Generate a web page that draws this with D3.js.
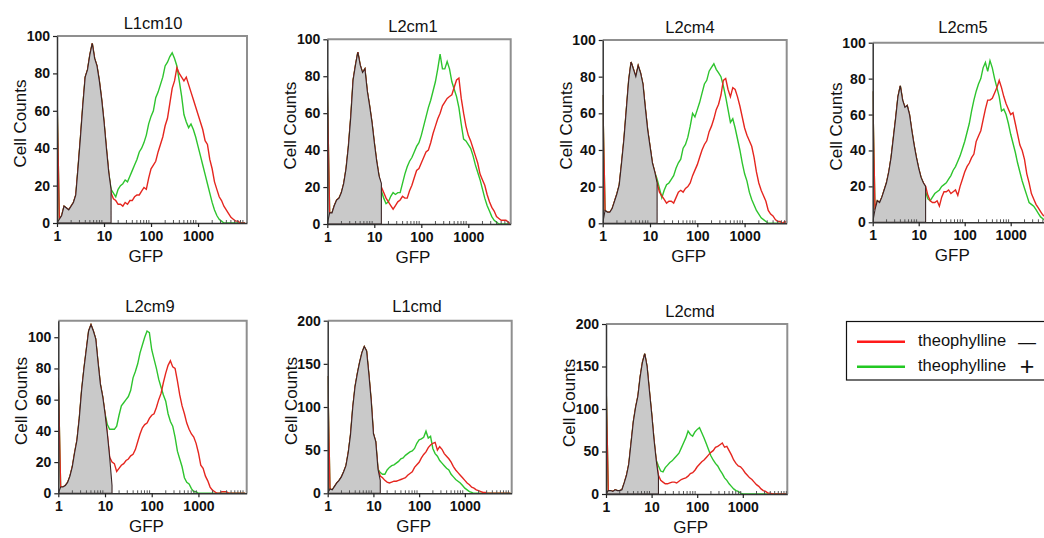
<!DOCTYPE html>
<html>
<head>
<meta charset="utf-8">
<script src="https://cdn.jsdelivr.net/npm/d3@7"></script>
<style>
body { margin: 0; background: #fff; }
text { font-family: "Liberation Sans", Arial, sans-serif; fill: #111; }
</style>
</head>
<body>
<script>
// instrument channel centres (GFP fluorescence)
var channels = [1, 1.122, 1.259, 1.413, 1.585, 1.778, 1.995, 2.239, 2.512, 2.818,
  3.162, 3.548, 3.981, 4.467, 5.012, 5.623, 6.310, 7.079, 7.943, 8.913,
  10, 11.22, 12.59, 14.13, 15.85, 17.78, 19.95, 22.39, 25.12, 28.18,
  31.62, 35.48, 39.81, 44.67, 50.12, 56.23, 63.10, 70.79, 79.43, 89.13,
  100, 112.2, 125.9, 141.3, 158.5, 177.8, 199.5, 223.9, 251.2, 281.8,
  316.2, 354.8, 398.1, 446.7, 501.2, 562.3, 631.0, 707.9, 794.3, 891.3,
  1000, 1122, 1259, 1413, 1585, 1778, 1995, 2239, 2512, 2818,
  3162, 3548, 3981, 4467, 5012, 5623, 6310, 7079, 7943, 8913, 10000];

var panelNames = ["L1cm10", "L2cm1", "L2cm4", "L2cm5", "L2cm9", "L1cmd", "L2cmd"];
var xTickValues = [1, 10, 100, 1000];
var xTickLabels = ["1", "10", "100", "1000"];
var yTickSets = [[0, 20, 40, 60, 80, 100], [0, 20, 40, 60, 80, 100], [0, 20, 40, 60, 80, 100],
  [0, 20, 40, 60, 80, 100], [0, 20, 40, 60, 80, 100], [0, 50, 100, 150, 200], [0, 50, 100, 150, 200]];
var yMaxes = [100, 100, 100, 100, 110.6, 200, 200];

// pile-up in the first channel (both theophylline curves)
var firstChannel = [68, 73, 70, 73, 74, 136, 134];

// unstained control, channels 0..23 (grey histogram)
var negative = [
  [0, 2, 4, 9, 8, 7, 9, 11, 15, 30, 46, 63, 78, 82, 90, 96, 88, 84, 76, 66, 54, 40, 27, 18],
  [0, 6, 6, 10, 13, 14, 17, 22, 30, 42, 58, 78, 86, 93, 86, 82, 84, 72, 64, 55, 44, 34, 26, 22],
  [0, 7, 6, 6, 8, 12, 16, 21, 33, 46, 62, 78, 88, 84, 80, 86, 82, 76, 63, 51, 42, 33, 28, 22],
  [0, 7, 12, 11, 14, 18, 22, 28, 36, 47, 58, 70, 76, 68, 64, 65, 60, 51, 43, 36, 30, 25, 22, 20],
  [0, 4, 4, 5, 7, 11, 17, 26, 34, 48, 66, 80, 92, 104, 108, 104, 99, 84, 70, 62, 51, 38, 23, 5],
  [0, 5, 4, 8, 12, 15, 19, 25, 32, 47, 68, 100, 124, 139, 152, 163, 170, 165, 138, 108, 69, 60, 28, 15],
  [0, 4, 4, 3, 5, 4, 4, 5, 13, 22, 35, 60, 85, 102, 115, 138, 155, 165, 150, 122, 95, 65, 40, 20]
];

// theophylline -, channels 23..80
var minusTheo = [
  [16, 13, 12, 10, 10, 9, 11, 10, 12, 12, 14, 15, 15, 17, 19, 18, 24, 29, 31, 33,
   38, 42, 46, 52, 56, 64, 72, 76, 83, 80, 78, 76, 78, 74, 70, 66, 62, 58, 54, 50,
   44, 42, 34, 29, 22, 18, 14, 12, 9, 7, 5, 3, 2, 1, 1, 0, 0, 0],
  [20, 17, 14, 12, 10, 8, 10, 12, 13, 15, 14, 14, 18, 21, 25, 29, 30, 33, 36, 39,
   40, 44, 49, 53, 57, 60, 64, 66, 68, 69, 70, 74, 78, 79, 68, 60, 53, 48, 45, 41,
   37, 33, 27, 24, 21, 16, 12, 9, 7, 4, 3, 2, 2, 2, 1, 0, 0, 0],
  [22, 17, 15, 13, 11, 12, 12, 11, 14, 17, 18, 17, 19, 20, 22, 26, 29, 32, 36, 40,
   43, 45, 50, 53, 57, 62, 65, 70, 78, 79, 73, 69, 74, 73, 69, 64, 58, 52, 48, 45,
   42, 36, 28, 22, 18, 15, 12, 7, 5, 4, 2, 1, 1, 0, 1, 0, 0, 0],
  [20, 15, 12, 11, 11, 12, 9, 14, 17, 17, 18, 16, 17, 18, 15, 20, 24, 28, 31, 33,
   36, 38, 45, 48, 51, 57, 63, 68, 68, 69, 72, 75, 79, 75, 70, 66, 63, 60, 61, 55,
   49, 43, 40, 35, 27, 22, 16, 13, 10, 8, 6, 4, 3, 2, 1, 1, 0, 0],
  [20, 19, 14, 16, 18, 19, 21, 22, 24, 25, 28, 33, 38, 42, 44, 45, 48, 50, 51, 55,
   60, 64, 71, 77, 82, 85, 81, 80, 72, 63, 56, 51, 45, 41, 38, 36, 32, 26, 18, 16,
   11, 8, 4, 2, 1, 0, 0, 1, 1, 1, 0, 0, 0, 0, 0, 0, 0, 0],
  [20, 18, 15, 13, 12, 13, 14, 14, 15, 16, 17, 18, 21, 23, 25, 30, 33, 36, 41, 45,
   48, 53, 56, 58, 59, 50, 54, 51, 46, 43, 40, 36, 31, 27, 24, 21, 18, 15, 12, 10,
   7, 6, 4, 3, 2, 1, 1, 0, 0, 0, 0, 0, 0, 0, 0, 0, 0, 0],
  [22, 16, 14, 12, 12, 13, 14, 14, 13, 15, 17, 18, 19, 21, 24, 25, 28, 32, 35, 38,
   40, 43, 46, 49, 51, 55, 56, 58, 60, 55, 56, 51, 46, 40, 36, 33, 32, 29, 25, 22,
   19, 17, 14, 11, 9, 6, 4, 3, 1, 1, 0, 0, 0, 0, 0, 0, 0, 0]
];

// theophylline +, from channel plusStart[i] to 80
var plusStart = [23, 23, 23, 23, 21, 23, 23];
var plusTheo = [
  [18, 16, 14, 18, 20, 21, 23, 22, 25, 28, 31, 34, 38, 40, 43, 47, 53, 57, 60, 67,
   70, 74, 78, 84, 86, 89, 91, 88, 84, 76, 68, 58, 54, 51, 53, 50, 46, 41, 36, 31,
   26, 21, 16, 11, 7, 4, 2, 1, 0, 0, 0, 0, 0, 0, 0, 0, 0, 0],
  [18, 14, 11, 12, 15, 17, 16, 17, 17, 22, 27, 31, 34, 36, 39, 42, 44, 48, 53, 58,
   63, 67, 72, 77, 84, 92, 84, 84, 88, 84, 77, 73, 69, 63, 54, 46, 45, 43, 41, 37,
   32, 28, 24, 19, 14, 10, 7, 4, 2, 1, 0, 0, 0, 0, 0, 0, 0, 0],
  [24, 19, 14, 18, 21, 22, 24, 26, 30, 33, 35, 41, 43, 47, 53, 60, 58, 62, 66, 71,
   76, 78, 83, 85, 87, 84, 82, 80, 75, 69, 62, 55, 57, 52, 46, 40, 33, 27, 23, 17,
   13, 10, 7, 5, 3, 2, 1, 0, 0, 0, 0, 0, 0, 0, 0, 0, 0, 0],
  [17, 13, 12, 14, 16, 17, 18, 20, 21, 22, 24, 26, 29, 31, 34, 37, 41, 45, 50, 55,
   62, 68, 73, 77, 80, 86, 89, 84, 90, 86, 80, 75, 70, 62, 63, 60, 55, 49, 44, 39,
   33, 28, 23, 19, 15, 11, 10, 9, 7, 5, 3, 2, 1, 0, 0, 0, 0, 0],
  [44, 41, 41, 41, 43, 50, 56, 58, 60, 62, 66, 74, 78, 83, 90, 95, 100, 104, 103, 92,
   86, 80, 73, 68, 63, 59, 51, 46, 43, 36, 27, 22, 17, 10, 7, 6, 3, 1, 1, 0,
   0, 0, 0, 0, 0, 0, 0, 0, 0, 0, 0, 0, 0, 0, 0, 0, 0, 0, 0, 0],
  [24, 22, 22, 27, 30, 32, 33, 35, 37, 40, 41, 44, 46, 48, 49, 52, 58, 62, 63, 65,
   72, 64, 66, 52, 46, 43, 38, 35, 32, 29, 27, 22, 19, 16, 14, 12, 9, 6, 4, 2,
   1, 0, 0, 0, 0, 0, 0, 0, 0, 0, 0, 0, 0, 0, 0, 0, 0, 0],
  [33, 27, 26, 31, 34, 37, 39, 42, 45, 48, 54, 60, 66, 74, 70, 68, 73, 76, 78, 72,
   66, 59, 52, 45, 40, 36, 33, 28, 24, 19, 16, 12, 9, 6, 4, 3, 1, 0, 0, 0,
   0, 0, 0, 0, 0, 0, 0, 0, 0, 0, 0, 0, 0, 0, 0, 0, 0, 0]
];

var legendLabels = ["theophylline", "theophylline"];
var legendSigns = ["\u2014", "+"];

// layout of each plot box (pixels) and right end of its log axis
var boxes = [
  { l: 57, t: 36, r: 247, b: 223, xMax: 11000, title: [153, 29] },
  { l: 327.3, t: 39.3, r: 510.7, b: 224, xMax: 7980, title: [413, 31.5] },
  { l: 602.7, t: 40, r: 786.7, b: 223.3, xMax: 7760, title: [690, 32.5] },
  { l: 872.7, t: 42.7, r: 1058.6, b: 222.3, xMax: 11000, title: [963, 33] },
  { l: 58.3, t: 320.7, r: 246.7, b: 493.3, xMax: 10800, title: [150, 311.5] },
  { l: 327.7, t: 320.7, r: 511.7, b: 493.3, xMax: 10600, title: [417, 311.5] },
  { l: 606, t: 324, r: 787.3, b: 494, xMax: 9460, title: [690, 316.5] }
];

var redColor = "#e5261f", greenColor = "#2ec42e";

var svg = d3.select("body").append("svg")
  .attr("width", 1044)
  .attr("height", 538)
  .style("display", "block");

svg.append("rect").attr("width", 1044).attr("height", 538).attr("fill", "#fff");

panelNames.forEach(function (name, i) {
  var box = boxes[i];
  var x = d3.scaleLog().domain([1, box.xMax]).range([box.l, box.r]);
  var y = d3.scaleLinear().domain([0, yMaxes[i]]).range([box.b, box.t]);
  var g = svg.append("g");

  g.append("clipPath").attr("id", "clip" + i)
    .append("rect")
    .attr("x", box.l).attr("y", box.t - 2)
    .attr("width", box.r - box.l).attr("height", box.b - box.t + 2);

  // build the series as [channel, count]
  var neg = negative[i].map(function (v, k) { return [channels[k], v]; });
  var red = [[channels[0], firstChannel[i]]];
  for (var k = 1; k < 23; k++) red.push([channels[k], negative[i][k]]);
  minusTheo[i].forEach(function (v, j) { red.push([channels[23 + j], v]); });
  var green = [[channels[0], firstChannel[i]]];
  for (k = 1; k < plusStart[i]; k++) green.push([channels[k], negative[i][k]]);
  plusTheo[i].forEach(function (v, j) { green.push([channels[plusStart[i] + j], v]); });

  var line = d3.line().x(function (d) { return x(d[0]); }).y(function (d) { return y(d[1]); });
  var area = d3.area().x(function (d) { return x(d[0]); })
    .y0(y(0)).y1(function (d) { return y(d[1]); });

  var plot = g.append("g").attr("clip-path", "url(#clip" + i + ")");
  plot.append("path").datum(green)
    .attr("d", line).attr("fill", "none")
    .attr("stroke", greenColor).attr("stroke-width", 1.4);
  plot.append("path").datum(red)
    .attr("d", line).attr("fill", "none")
    .attr("stroke", redColor).attr("stroke-width", 1.4);
  plot.append("path").datum(neg)
    .attr("d", area).attr("fill", "#c9c9c9")
    .attr("stroke", "#3a2424").attr("stroke-width", 1.1);

  // frame: top and right in grey
  g.append("path")
    .attr("d", "M" + box.l + "," + box.t + "H" + box.r + "V" + box.b)
    .attr("fill", "none").attr("stroke", "#8f8f8f").attr("stroke-width", 2);

  // minor ticks along the log axis
  var minor = [];
  [1, 10, 100, 1000].forEach(function (d) {
    for (var m = 2; m <= 9; m++) if (d * m <= box.xMax) minor.push(d * m);
  });
  g.selectAll(".minor").data(minor).enter().append("line")
    .attr("x1", function (d) { return x(d); }).attr("x2", function (d) { return x(d); })
    .attr("y1", box.b).attr("y2", box.b - 3)
    .attr("stroke", "#555").attr("stroke-width", 1);

  var xAxis = g.append("g").attr("transform", "translate(0," + box.b + ")")
    .call(d3.axisBottom(x).tickValues(xTickValues)
      .tickFormat(function (d, j) { return xTickLabels[j]; })
      .tickSize(4).tickSizeOuter(0));
  var yAxis = g.append("g").attr("transform", "translate(" + box.l + ",0)")
    .call(d3.axisLeft(y).tickValues(yTickSets[i]).tickSize(4).tickSizeOuter(0));

  [xAxis, yAxis].forEach(function (ax) {
    ax.select(".domain").attr("stroke", "#333").attr("stroke-width", 1.5);
    ax.selectAll(".tick line").attr("stroke", "#222").attr("stroke-width", 1.2);
    ax.selectAll(".tick text")
      .style("font-family", "'Liberation Sans', Arial, sans-serif")
      .style("font-size", "14px").style("font-weight", "bold").attr("fill", "#111");
  });
  xAxis.selectAll(".tick text").attr("y", 8);
  yAxis.selectAll(".tick text").attr("x", -7);

  g.append("text")
    .attr("x", box.title[0]).attr("y", box.title[1])
    .attr("text-anchor", "middle").style("font-size", "16.5px")
    .text(name);

  g.append("text")
    .attr("transform", "translate(" + (box.l - 31) + "," + ((box.t + box.b) / 2 - 6) + ") rotate(-90)")
    .attr("text-anchor", "middle").style("font-size", "17px")
    .text("Cell Counts");

  g.append("text")
    .attr("x", (box.l + Math.min(box.r, 1044)) / 2 - 6)
    .attr("y", box.b + 39)
    .attr("text-anchor", "middle").style("font-size", "17px")
    .text("GFP");
});

// legend
var legend = svg.append("g");
legend.append("rect")
  .attr("x", 846.5).attr("y", 321.5).attr("width", 210).attr("height", 58.5)
  .attr("fill", "#fff").attr("stroke", "#111").attr("stroke-width", 1.2);
var legendColors = ["#ff1a1a", "#22c822"];
var legendY = [341.7, 366.7];
legendLabels.forEach(function (lab, j) {
  legend.append("line")
    .attr("x1", 857).attr("x2", 905).attr("y1", legendY[j]).attr("y2", legendY[j])
    .attr("stroke", legendColors[j]).attr("stroke-width", 2.6);
  legend.append("text")
    .attr("x", 918).attr("y", legendY[j] + 4.5)
    .style("font-size", "16.5px")
    .text(lab);
  legend.append("text")
    .attr("x", 1027).attr("y", legendY[j] + (j === 0 ? 6 : 8.5))
    .attr("text-anchor", "middle")
    .style("font-size", j === 0 ? "18px" : "25px")
    .text(legendSigns[j]);
});
</script>
</body>
</html>
